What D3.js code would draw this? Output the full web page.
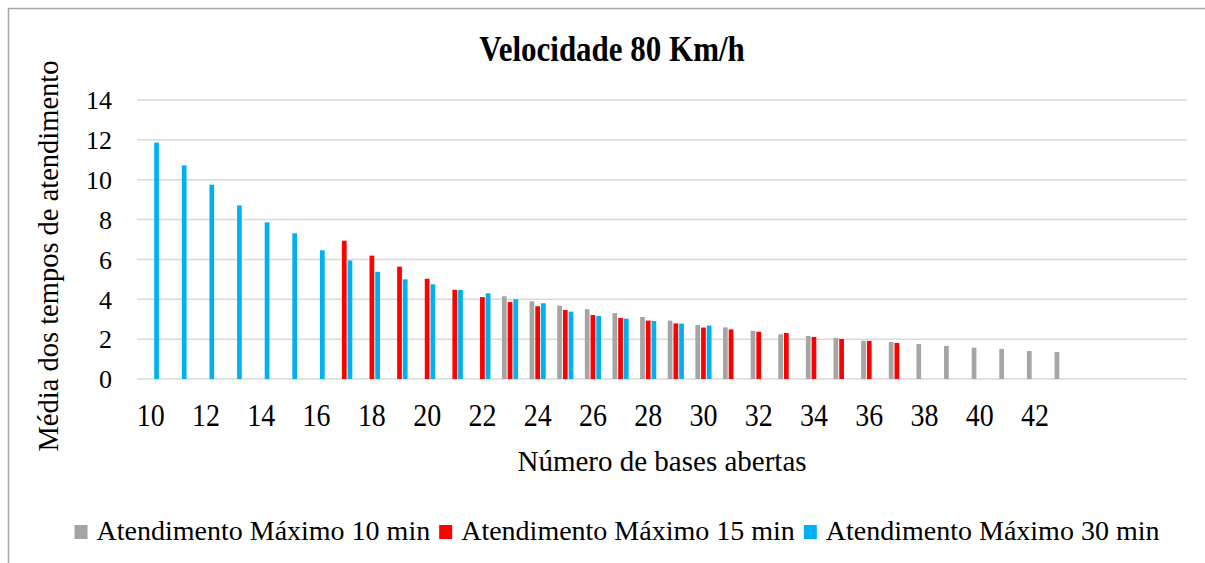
<!DOCTYPE html>
<html>
<head>
<meta charset="utf-8">
<script src="https://cdn.jsdelivr.net/npm/d3@7"></script>
<style>
  body { margin: 0; background: #fff; }
  text { font-family: "Liberation Serif", "Times New Roman", serif; fill: #000; }
</style>
</head>
<body>
<div id="chart"></div>
<script>
// categories: number of open bases (44-47 are empty slots in the original)
let categories = [10,11,12,13,14,15,16,17,18,19,20,21,22,23,24,25,26,27,28,29,30,
                  31,32,33,34,35,36,37,38,39,40,41,42,43,44,45,46,47];
let xTickLabels = [10,12,14,16,18,20,22,24,26,28,30,32,34,36,38,40,42];
let yTicks = [0,2,4,6,8,10,12,14];

let seriesNames = ['Atendimento Máximo 10 min', 'Atendimento Máximo 15 min', 'Atendimento Máximo 30 min'];

// values per category, null = no bar
let max10 = [null,null,null,null,null,null,null,null,null,null,null,null,null,
             4.15,3.90,3.68,3.50,3.31,3.11,2.93,2.71,2.59,2.42,2.24,2.16,2.06,1.92,1.86,
             1.76,1.66,1.57,1.51,1.40,1.35,null,null,null,null];
let max15 = [null,null,null,null,null,null,null,
             6.94,6.19,5.64,5.03,4.48,4.11,3.86,3.65,3.46,3.21,3.06,2.93,2.79,2.58,
             2.49,2.37,2.31,2.11,2.01,1.91,1.81,
             null,null,null,null,null,null,null,null,null,null];
let max30 = [11.86,10.72,9.75,8.71,7.86,7.31,6.46,5.95,5.38,5.00,4.75,4.47,4.30,
             4.00,3.80,3.38,3.16,3.03,2.91,2.78,2.68,
             null,null,null,null,null,null,null,null,null,null,null,null,null,null,null,null,null];

let colors = ['#A5A5A5', '#FF0000', '#00B0F0'];

let W = 1205, H = 563;
let plot = { left: 137, right: 1187, top: 100, bottom: 379 };

let svg = d3.select('#chart').append('svg')
    .attr('width', W)
    .attr('height', H);

// chart frame
svg.append('rect')
    .attr('x', 8.5).attr('y', 8.5)
    .attr('width', W + 20).attr('height', H + 20)
    .attr('fill', '#fff')
    .attr('stroke', '#a6a6a6')
    .attr('stroke-width', 1.5);

let x0 = d3.scaleBand().domain(categories).range([plot.left, plot.right]).padding(0);
let x1 = d3.scaleBand().domain(d3.range(seriesNames.length)).range([0, x0.bandwidth()])
    .paddingInner(0.175).paddingOuter(1.0);
let y = d3.scaleLinear().domain([0, 14]).range([plot.bottom, plot.top]);

// gridlines
svg.append('g').attr('class', 'grid')
    .selectAll('line')
    .data(yTicks)
    .enter().append('line')
    .attr('x1', plot.left).attr('x2', plot.right)
    .attr('y1', function(d) { return y(d); })
    .attr('y2', function(d) { return y(d); })
    .attr('stroke', '#d9d9d9')
    .attr('stroke-width', 1.5);

// y axis labels
let yAxis = svg.append('g')
    .attr('transform', 'translate(' + plot.left + ',0)')
    .call(d3.axisLeft(y).tickValues(yTicks).tickSize(0).tickPadding(25));
yAxis.select('.domain').remove();
yAxis.selectAll('text')
    .style('font-family', '"Liberation Serif", serif')
    .style('font-size', '26px')
    .attr('dy', '0.34em');

// x axis labels
let xAxis = svg.append('g')
    .attr('transform', 'translate(0,' + plot.bottom + ')')
    .call(d3.axisBottom(x0).tickValues(xTickLabels).tickSize(0).tickPadding(0));
xAxis.select('.domain').remove();
xAxis.selectAll('text')
    .style('font-family', '"Liberation Serif", serif')
    .style('font-size', '28px')
    .attr('y', 48)
    .attr('dy', 0)
    .style('transform-box', 'fill-box')
    .style('transform-origin', 'center bottom')
    .style('transform', 'scaleY(1.15)');

// bars
let seriesData = [max10, max15, max30];
let groups = svg.append('g').attr('class', 'bars')
    .selectAll('g')
    .data(seriesData)
    .enter().append('g')
    .attr('fill', function(d, i) { return colors[i]; });

groups.each(function(values, si) {
    d3.select(this).selectAll('rect')
        .data(categories.map(function(c, ci) { return { cat: c, value: values[ci] }; })
            .filter(function(d) { return d.value != null; }))
        .enter().append('rect')
        .attr('x', function(d) { return x0(d.cat) + x1(si); })
        .attr('width', x1.bandwidth())
        .attr('y', function(d) { return y(d.value); })
        .attr('height', function(d) { return y(0) - y(d.value); });
});

// title
svg.append('text')
    .attr('x', (plot.left + plot.right) / 2 - 50)
    .attr('y', 62)
    .attr('text-anchor', 'middle')
    .style('font-size', '31px')
    .style('font-weight', 'bold')
    .style('transform-box', 'fill-box')
    .style('transform-origin', 'center bottom')
    .style('transform', 'scaleY(1.15)')
    .text('Velocidade 80 Km/h');

// axis titles
svg.append('text')
    .attr('x', (plot.left + plot.right) / 2)
    .attr('y', 471)
    .attr('text-anchor', 'middle')
    .style('font-size', '29px')
    .text('Número de bases abertas');

svg.append('text')
    .attr('transform', 'translate(58,256) rotate(-90)')
    .attr('text-anchor', 'middle')
    .style('font-size', '28.5px')
    .text('Média dos tempos de atendimento');

// legend
let legend = svg.append('g').attr('class', 'legend');
let items = legend.selectAll('g')
    .data(seriesNames)
    .enter().append('g');
items.append('rect')
    .attr('width', 13).attr('height', 14)
    .attr('y', -15)
    .attr('fill', function(d, i) { return colors[i]; });
items.append('text')
    .attr('x', 22)
    .style('font-size', '28px')
    .text(function(d) { return d; });

let lx = 0;
let offsets = [];
items.each(function() {
    offsets.push(lx);
    lx += 22 + d3.select(this).select('text').node().getComputedTextLength() + 9;
});
let legendStart = 617 - (lx - 9) / 2;
items.attr('transform', function(d, i) { return 'translate(' + (legendStart + offsets[i]) + ',540)'; });
</script>
</body>
</html>
